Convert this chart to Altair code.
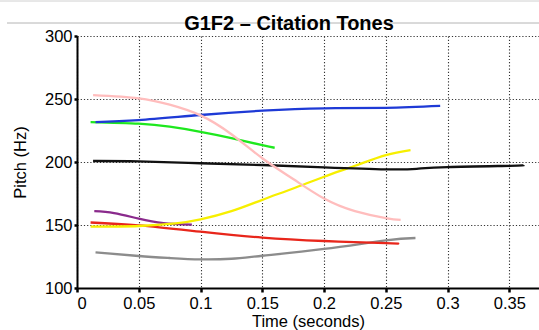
import altair as alt
import pandas as pd

# Pitch contours (time in seconds, pitch in Hz), one list pair per tone
pink_t = [0.013, 0.05, 0.075, 0.1, 0.125, 0.15, 0.175, 0.2, 0.225, 0.25, 0.262]
pink_hz = [253, 250.5, 245.5, 237.0, 222, 203, 186.5, 171, 161, 155.5, 154]

blue_t = [0.015, 0.05, 0.1, 0.15, 0.2, 0.25, 0.294]
blue_hz = [231.7, 233.3, 237.3, 240.7, 242.6, 243.0, 244.5]

green_t = [0.011, 0.05, 0.075, 0.1, 0.125, 0.15, 0.16]
green_hz = [231.7, 230.4, 228.0, 224.0, 219.0, 213.3, 211.3]

black_t = [0.013, 0.05, 0.1, 0.15, 0.2, 0.25, 0.275, 0.3, 0.35, 0.362]
black_hz = [200.8, 200.5, 199.0, 197.6, 195.8, 194.2, 194.6, 196.0, 197.0, 197.4]

yellow_t = [0.011, 0.05, 0.08, 0.1, 0.125, 0.15, 0.175, 0.2, 0.225, 0.25, 0.27]
yellow_hz = [148.7, 149.2, 151.3, 154.5, 161.0, 170.0, 179.0, 188.3, 197.0, 205.5, 209.5]

purple_t = [0.014, 0.03, 0.05, 0.07, 0.093]
purple_hz = [161.0, 159.5, 155.0, 151.5, 150.3]

red_t = [0.011, 0.05, 0.1, 0.15, 0.2, 0.25, 0.26]
red_hz = [152.0, 149.7, 144.7, 140.0, 137.3, 135.6, 135.3]

gray_t = [0.015, 0.05, 0.075, 0.1, 0.125, 0.15, 0.2, 0.25, 0.274]
gray_hz = [128.3, 125.4, 123.8, 122.7, 123.2, 125.6, 131.0, 137.8, 139.7]

series = [
    ("gray", gray_t, gray_hz, "#8c8c8c"),
    ("red", red_t, red_hz, "#e8261b"),
    ("purple", purple_t, purple_hz, "#8a2a8c"),
    ("yellow", yellow_t, yellow_hz, "#f7ef00"),
    ("black", black_t, black_hz, "#111111"),
    ("green", green_t, green_hz, "#1ee81e"),
    ("blue", blue_t, blue_hz, "#1e3ad6"),
    ("pink", pink_t, pink_hz, "#ffbdbd"),
]

rows = []
for name, ts, hzs, _ in series:
    for t, hz in zip(ts, hzs):
        rows.append({"tone": name, "time": t, "pitch": hz})
df = pd.DataFrame(rows)

names = [s[0] for s in series]
colors = [s[3] for s in series]

FONT = "Liberation Sans"

x_enc = alt.X(
    "time:Q",
    scale=alt.Scale(domain=[0, 0.374], nice=False, zero=False),
    axis=alt.Axis(
        title="Time (seconds)",
        values=[0, 0.05, 0.1, 0.15, 0.2, 0.25, 0.3, 0.35],
        format="~g",
    ),
)
y_enc = alt.Y(
    "pitch:Q",
    scale=alt.Scale(domain=[100, 300], nice=False, zero=False),
    axis=alt.Axis(title="Pitch (Hz)", values=[100, 150, 200, 250, 300]),
)

lines = alt.Chart(df).mark_line(
    strokeWidth=2.3, interpolate="natural", clip=False
).encode(
    x=x_enc,
    y=y_enc,
    color=alt.Color("tone:N", scale=alt.Scale(domain=names, range=colors), legend=None),
    detail="tone:N",
)

# thin header rules across the top of the figure
one_row = pd.DataFrame({"k": [0]})
rule_top = alt.Chart(one_row).mark_rule(color="#d0d0d0", strokeWidth=1, clip=False).encode(
    x=alt.value(-77), x2=alt.value(470), y=alt.value(-35)
)
rule_mid = alt.Chart(one_row).mark_rule(color="#b4b4b4", strokeWidth=1, clip=False).encode(
    x=alt.value(-70), x2=alt.value(470), y=alt.value(-13)
)

chart = alt.layer(rule_top, rule_mid, lines).properties(
    width=462,
    height=252,
    autosize=alt.AutoSizeParams(type="none"),
    padding={"left": 77, "top": 36, "right": 0, "bottom": 42},
    title=alt.TitleParams(
        "G1F2 \u2013 Citation Tones",
        font=FONT,
        fontSize=20,
        fontWeight="bold",
        color="black",
        anchor="middle",
        frame="group",
        dx=-19,
        offset=-49,
        baseline="alphabetic",
    ),
).configure_view(
    stroke=None
).configure_axis(
    labelFont=FONT,
    titleFont=FONT,
    labelFontSize=16.5,
    titleFontSize=16.5,
    titleFontWeight="normal",
    labelColor="black",
    titleColor="black",
    domainColor="black",
    domainWidth=2,
    tickColor="black",
    tickWidth=2.5,
    tickSize=3,
    labelPadding=2,
    grid=True,
    gridColor="#333333",
    gridDash=[1.2, 2],
    gridWidth=1.1,
).configure_axisX(
    tickSize=4,
    labelPadding=3,
    titlePadding=2,
).configure_axisY(
    titlePadding=16,
)

chart.save("out.html", embed_options={"renderer": "svg", "actions": False})
